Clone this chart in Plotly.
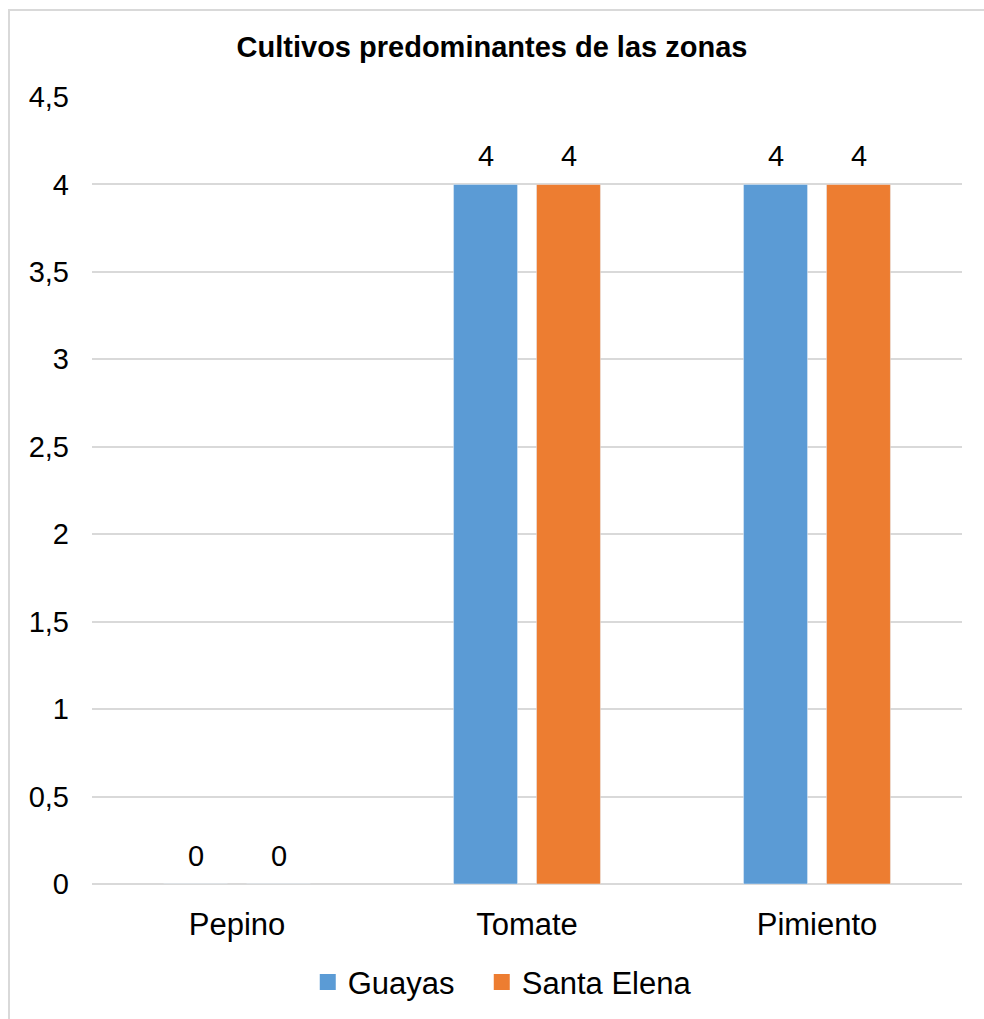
import plotly.graph_objects as go

categories = ["Pepino", "Tomate", "Pimiento"]
guayas = [0, 4, 4]
santa_elena = [0, 4, 4]
tick_vals = [0, 0.5, 1, 1.5, 2, 2.5, 3, 3.5, 4, 4.5]
tick_text = ["0", "0,5", "1", "1,5", "2", "2,5", "3", "3,5", "4", "4,5"]

BLUE = "#5B9BD5"
ORANGE = "#ED7D31"
FONT = "Liberation Sans, Arial, sans-serif"

fig = go.Figure()
fig.add_trace(go.Bar(name="Guayas", x=categories, y=guayas, marker_color=BLUE,
                     showlegend=False))
fig.add_trace(go.Bar(name="Santa Elena", x=categories, y=santa_elena,
                     marker_color=ORANGE, showlegend=False))

# legend entries drawn as larger square swatches, one legend box each
for name, color, leg in (("Guayas", BLUE, "legend"), ("Santa Elena", ORANGE, "legend2")):
    fig.add_trace(go.Scatter(x=[None], y=[None], mode="markers", name=name,
                             legend=leg,
                             marker=dict(symbol="square", size=16, color=color)))

# value labels above each bar
for vals, shift in ((guayas, -41.5), (santa_elena, 41.5)):
    for cat, v in zip(categories, vals):
        fig.add_annotation(x=cat, y=v, text=str(v), showarrow=False,
                           xshift=shift, yshift=10, yanchor="bottom",
                           font=dict(family=FONT, size=29, color="#000000"))

# chart border
fig.add_shape(type="rect", xref="paper", yref="paper",
              x0=-0.0954, x1=1.2, y0=-0.22, y1=1.1105,
              line=dict(color="#d9d9d9", width=2), fillcolor="rgba(0,0,0,0)",
              layer="below")

legend_style = dict(orientation="h", xanchor="left", y=-0.125, yanchor="middle",
                    font=dict(family=FONT, size=31, color="#000000"),
                    itemwidth=30, tracegroupgap=0, bgcolor="rgba(0,0,0,0)")

fig.update_layout(
    width=984, height=1019,
    margin=dict(l=92, r=22, t=97, b=135, autoexpand=False),
    paper_bgcolor="white", plot_bgcolor="white",
    barmode="group", bargap=0.428, bargroupgap=0.229,
    title=dict(text="<b>Cultivos predominantes de las zonas</b>",
               x=0.5, xanchor="center", y=0.954, yanchor="middle",
               font=dict(family=FONT, size=29, color="#000000")),
    font=dict(family=FONT, color="#000000"),
    showlegend=True,
    legend=dict(x=0.248, **legend_style),
    legend2=dict(x=0.448, **legend_style),
    xaxis=dict(showgrid=False, showline=False, ticks="", automargin=False,
               tickfont=dict(family=FONT, size=31, color="#000000"),
               ticklabelstandoff=19),
    yaxis=dict(range=[0, 4.5], tickvals=tick_vals, ticktext=tick_text,
               showgrid=True, gridcolor="#d9d9d9", gridwidth=1.5,
               zeroline=True, zerolinecolor="#d9d9d9", zerolinewidth=1.5,
               showline=False, ticks="", automargin=False,
               tickfont=dict(family=FONT, size=29, color="#000000"),
               ticklabelstandoff=22),
)

fig.write_html("out.html")
